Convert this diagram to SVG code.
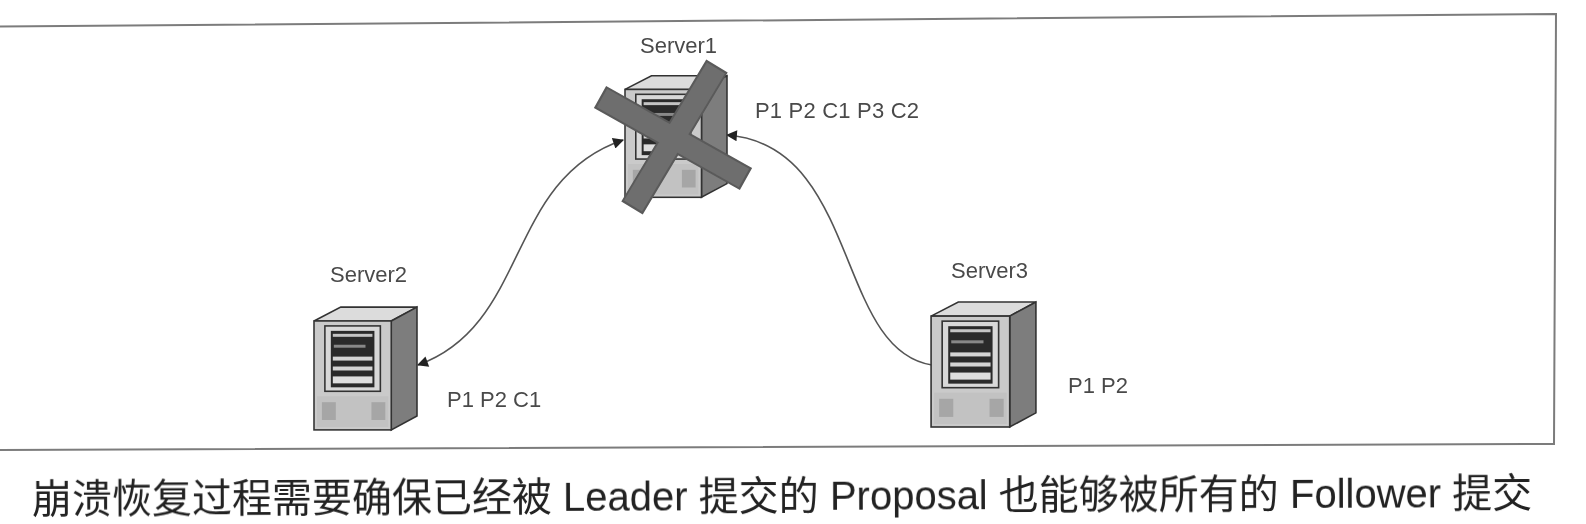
<svg xmlns="http://www.w3.org/2000/svg" width="1586" height="524" viewBox="0 0 1586 524">
<style>
.lbl{font-family:"Liberation Sans",Arial,sans-serif;font-size:22px;fill:#4a4a4a;filter:url(#txt)}
.cap{font-family:"Liberation Sans","Noto Sans CJK SC",sans-serif;font-size:40px;fill:#222;filter:url(#txt)}
.link{fill:none;stroke:#555;stroke-width:1.6}
.frame{fill:none;stroke:#7c7c7c;stroke-width:2}
.bar{stroke:#5a5a5a;stroke-width:25;stroke-linecap:butt;fill:none}
.bar-in{stroke:#6e6e6e;stroke-width:21;stroke-linecap:butt;fill:none}
</style>
<defs>
<filter id="soft" x="-5%" y="-5%" width="110%" height="110%"><feGaussianBlur stdDeviation="0.7"/></filter>
<filter id="txt" x="-2%" y="-10%" width="104%" height="120%"><feGaussianBlur stdDeviation="0.45"/></filter>
<marker id="ah" viewBox="0 0 10 10" refX="9" refY="5" markerWidth="13" markerHeight="11" markerUnits="userSpaceOnUse" orient="auto-start-reverse"><path d="M0 0L10 5L0 10Z" fill="#222"/></marker>
<symbol id="srv" viewBox="0 0 104 124" overflow="visible">
<path d="M0 14L27 0H104L78 14Z" fill="#dcdcdc" stroke="#333" stroke-width="1.6"/>
<path d="M78 14L104 0V110L78 124Z" fill="#7d7d7d" stroke="#333" stroke-width="1.6"/>
<rect x="0" y="14" width="78" height="110" fill="#cacaca" stroke="#333" stroke-width="1.6"/>
<rect x="11" y="19" width="56" height="66" fill="#d8d8d8" stroke="#333" stroke-width="1.6"/>
<rect x="17" y="24" width="44" height="57" fill="#2a2a2a"/>
<rect x="19" y="27" width="40" height="3" fill="#c4c4c4"/>
<rect x="20" y="38" width="32" height="3" fill="#888"/>
<rect x="19" y="50" width="40" height="4" fill="#d4d4d4"/>
<rect x="19" y="60" width="40" height="4" fill="#d4d4d4"/>
<rect x="19" y="70" width="40" height="7" fill="#dedede"/>
<rect x="3" y="90" width="72" height="31" fill="#c2c2c2"/>
<rect x="8" y="96" width="14" height="18" fill="#a6a6a6"/>
<rect x="58" y="96" width="14" height="18" fill="#a6a6a6"/>
</symbol>
</defs>
<rect width="1586" height="524" fill="#fff"/>
<path class="frame" d="M0 26.5L1556 14L1554 444L0 450"/>
<g id="connectors">
<path class="link" d="M418 365C530 325 505 180 623 140" marker-start="url(#ah)" marker-end="url(#ah)"/>
<path class="link" d="M932 365C835 350 860 145 727 135" marker-end="url(#ah)"/>
</g>
<g id="server1">
<use href="#srv" x="625" y="75" width="102" height="123" filter="url(#soft)"/>
<g filter="url(#soft)">
<path class="bar" d="M600 97L746 179M717 66L632 208"/>
<path class="bar-in" d="M602 98L744 178M716 68L633 206"/>
</g>
<text class="lbl" x="640" y="53">Server1</text>
<text class="lbl" x="755" y="118" textLength="164">P1 P2 C1 P3 C2</text>
</g>
<g id="server2">
<use href="#srv" x="314" y="307" width="103" height="123" filter="url(#soft)"/>
<text class="lbl" x="330" y="282">Server2</text>
<text class="lbl" x="447" y="407">P1 P2 C1</text>
</g>
<g id="server3">
<use href="#srv" x="931" y="302" width="105" height="125" filter="url(#soft)"/>
<text class="lbl" x="951" y="278">Server3</text>
<text class="lbl" x="1068" y="393">P1 P2</text>
</g>
<text class="cap" x="32" y="513" transform="rotate(-0.23 32 513)">崩溃恢复过程需要确保已经被 Leader 提交的 Proposal 也能够被所有的 Follower 提交</text>
</svg>
